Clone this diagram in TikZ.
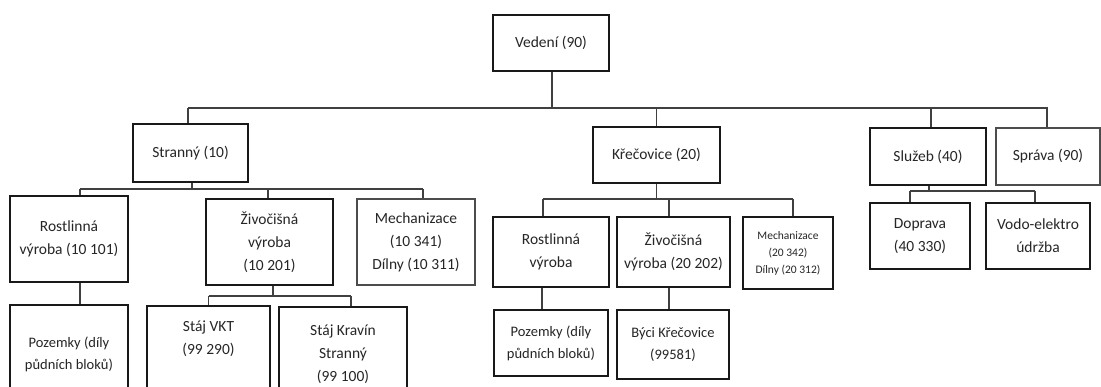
\documentclass[tikz,border=0pt]{standalone}
\usepackage{fontspec}
\setmainfont{Carlito}
\tikzset{
  box/.style={draw=black!90, line width=1.1pt, fill=white, inner sep=0pt, align=center,
    font=\fontsize{15.5}{23}\selectfont, text=black!85},
  boxg/.style={box, draw=black!70},
  small/.style={font=\fontsize{14.5}{22}\selectfont},
  tiny/.style={font=\fontsize{11.5}{17}\selectfont},
  conn/.style={draw=black!75, line width=1.3pt},
}
\begin{document}
\begin{tikzpicture}[x=1pt,y=-1pt]
\useasboundingbox (0,0) rectangle (1101,387);
% level 0
\node[box, minimum width=116pt, minimum height=56pt] (vedeni) at (551,43) {Vedení (90)};
% level 1
\node[box, minimum width=115pt, minimum height=58pt] (stranny) at (190.5,153) {Stranný (10)};
\node[box, minimum width=127pt, minimum height=56pt] (krec) at (656.5,155) {Křečovice (20)};
\node[box, minimum width=116pt, minimum height=57pt] (sluzeb) at (928,156.5) {Služeb (40)};
\node[boxg, minimum width=104pt, minimum height=57pt] (sprava) at (1048,156.5) {Správa (90)};
% level 2 - Stranný
\node[box, minimum width=118pt, minimum height=86pt] (rost1) at (69,239) {Rostlinná\\výroba (10 101)};
\node[box, minimum width=127pt, minimum height=86pt] (ziv1) at (269.5,242) {Živočišná\\výroba\\(10 201)};
\node[boxg, minimum width=118pt, minimum height=86pt] (mech1) at (416,242) {Mechanizace\\(10 341)\\Dílny (10 311)};
% level 3 - Stranný
\node[box, small, minimum width=118pt, minimum height=98pt] (poz1) at (69,354) {Pozemky (díly\\půdních bloků)};
\node[box, minimum width=123pt, minimum height=94pt] (vkt) at (208.5,353) {Stáj VKT\\(99 290)\\\strut};
\node[box, minimum width=128pt, minimum height=94pt] (kravin) at (343,354) {Stáj Kravín\\Stranný\\(99 100)};
% level 2 - Křečovice
\node[box, minimum width=116pt, minimum height=70pt] (rost2) at (551,252) {Rostlinná\\výroba};
\node[box, minimum width=113pt, minimum height=70pt] (ziv2) at (673.5,252) {Živočišná\\výroba (20 202)};
\node[box, tiny, minimum width=90pt, minimum height=72pt] (mech2) at (788,253) {Mechanizace\\(20 342)\\Dílny (20 312)};
% level 3 - Křečovice
\node[box, small, minimum width=114pt, minimum height=66pt] (poz2) at (551,343) {Pozemky (díly\\půdních bloků)};
\node[box, small, minimum width=112pt, minimum height=69pt] (byci) at (673,344.5) {Býci Křečovice\\(99581)};
% level 2 - Služeb
\node[box, minimum width=100pt, minimum height=66pt] (doprava) at (920,236) {Doprava\\(40 330)};
\node[box, minimum width=104pt, minimum height=66pt] (vodo) at (1038,236) {Vodo-elektro\\údržba};

% bus coordinates
\coordinate (bus1) at (0,108);
\coordinate (bus2) at (0,189);
\coordinate (bus3) at (0,296);
\coordinate (bus4) at (0,199);
\coordinate (bus5) at (0,191);

% level 0 -> 1
\draw[conn] ([xshift=1pt]vedeni.south) -- ([xshift=1pt]vedeni.south |- bus1);
\draw[conn] ([xshift=-2.5pt]stranny.north |- bus1) -- (sprava.north |- bus1);
\draw[conn] ([xshift=-2.5pt]stranny.north) -- ([xshift=-2.5pt]stranny.north |- bus1);
\draw[conn] (krec.north) -- (krec.north |- bus1);
\draw[conn] ([xshift=3pt]sluzeb.north) -- ([xshift=3pt]sluzeb.north |- bus1);
\draw[conn] ([xshift=-1pt]sprava.north) -- ([xshift=-1pt]sprava.north |- bus1);

% Stranný -> children
\draw[conn] ([xshift=1.5pt]stranny.south) -- ([xshift=1.5pt]stranny.south |- bus2);
\draw[conn] ([xshift=11pt]rost1.north |- bus2) -- ([xshift=7pt]mech1.north |- bus2);
\draw[conn] ([xshift=11pt]rost1.north) -- ([xshift=11pt]rost1.north |- bus2);
\draw[conn] ([xshift=-1.5pt]ziv1.north) -- ([xshift=-1.5pt]ziv1.north |- bus2);
\draw[conn] ([xshift=7pt]mech1.north) -- ([xshift=7pt]mech1.north |- bus2);
\draw[conn] ([xshift=11pt]rost1.south) -- ([xshift=11pt]poz1.north);

% Živočišná 1 -> stáje
\draw[conn] ([xshift=3.5pt]ziv1.south) -- ([xshift=3.5pt]ziv1.south |- bus3);
\draw[conn] (vkt.north |- bus3) -- ([xshift=8pt]kravin.north |- bus3);
\draw[conn] (vkt.north) -- (vkt.north |- bus3);
\draw[conn] ([xshift=8pt]kravin.north) -- ([xshift=8pt]kravin.north |- bus3);

% Křečovice -> children
\draw[conn] (krec.south) -- (krec.south |- bus4);
\draw[conn] ([xshift=-8pt]rost2.north |- bus4) -- ([xshift=5pt]mech2.north |- bus4);
\draw[conn] ([xshift=-8pt]rost2.north) -- ([xshift=-8pt]rost2.north |- bus4);
\draw[conn] ([xshift=-4.5pt]ziv2.north) -- ([xshift=-4.5pt]ziv2.north |- bus4);
\draw[conn] ([xshift=5pt]mech2.north) -- ([xshift=5pt]mech2.north |- bus4);
\draw[conn] ([xshift=-9pt]rost2.south) -- ([xshift=-9pt]poz2.north);
\draw[conn] ([xshift=-4.5pt]ziv2.south) -- ([xshift=-4pt]byci.north);

% Služeb -> children
\draw[conn] ([xshift=1pt]sluzeb.south) -- ([xshift=1pt]sluzeb.south |- bus5);
\draw[conn] ([xshift=-10pt]doprava.north |- bus5) -- ([xshift=-3pt]vodo.north |- bus5);
\draw[conn] ([xshift=-10pt]doprava.north) -- ([xshift=-10pt]doprava.north |- bus5);
\draw[conn] ([xshift=-3pt]vodo.north) -- ([xshift=-3pt]vodo.north |- bus5);
\end{tikzpicture}
\end{document}
